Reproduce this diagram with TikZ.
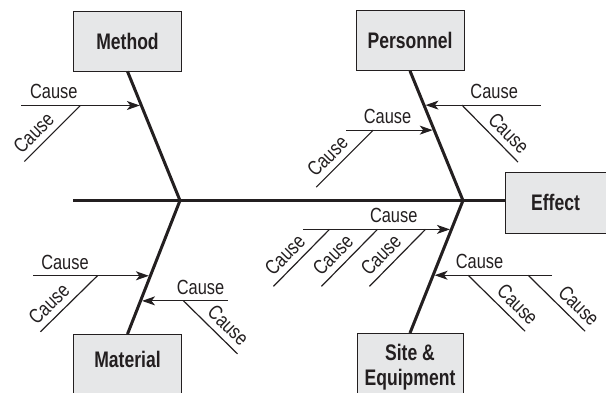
\documentclass[tikz,border=0pt]{standalone}
\usepackage{fontspec}
\setmainfont{Liberation Sans}
\newfontfamily\causefont{Liberation Sans}[FakeStretch=0.8]
\newfontfamily\catfont{Liberation Sans}[FakeStretch=0.78]
\usetikzlibrary{
  arrows.meta,
  positioning,
  calc
}
\definecolor{ink}{RGB}{35,31,32}
\definecolor{boxgray}{RGB}{230,231,232}

\begin{document}
\begin{tikzpicture}[x=1pt, y=-1pt,
    catbox/.style={rectangle, draw=ink, fill=boxgray, line width=0.8pt, minimum width=108pt, minimum height=60pt, inner sep=0pt, text=ink, font=\catfont\bfseries\fontsize{22.5}{25}\selectfont, align=center},
    cattext/.style={inner sep=0pt, text=ink, font=\catfont\bfseries\fontsize{22.5}{25}\selectfont, align=center},
    bone/.style={draw=ink, line width=3pt},
    cause/.style={draw=ink, line width=1.2pt},
    causearr/.style={cause, -{Stealth[length=13pt, width=9pt, inset=3.5pt]}, shorten >=1.5pt},
    causetext/.style={inner sep=0pt, text=ink, font=\causefont\fontsize{20.5}{22}\selectfont}]
  \useasboundingbox (0,0) rectangle (606,392);
  \clip (0,0) rectangle (606,392);

  % categories and effect
  \node [catbox] (method) at (127.5,41) {Method};
  \node [catbox] (personnel) at (410,40.5) {Personnel};
  \node [catbox, minimum width=101pt, minimum height=61pt] (effect) at (555.5,202.5) {Effect};
  \node [catbox, anchor=north, minimum height=80pt] (material) at (127.5,334) {};
  \node [cattext, below=17pt of material.north] (materialtext) {Material};
  \node [catbox, anchor=north, minimum height=80pt, minimum width=106pt] (site) at (410,333) {};
  \node [cattext, below=11pt of site.north] (sitetext) {Site \&\\Equipment};

  % spine and bones
  \coordinate (tail) at (73,200.5);
  \coordinate (jl) at (180,200.5);
  \coordinate (jr) at (463,200.5);
  \draw [bone] (tail) -- (tail -| effect.west);
  \draw [bone] (method.south) -- (jl) -- (material.north);
  \draw [bone] (personnel.south) -- (jr) -- (site.north);

  % Method
  \coordinate (m1) at ($(method.south)!0.264!(jl)$);
  \coordinate (m1a) at ($(m1)+(-120,0)$);
  \coordinate (m1b) at ($(m1)+(-61,0)$);
  \coordinate (m1c) at ($(m1b)+(-56,56)$);
  \draw [causearr] (m1a) -- node [causetext, pos=0.27, above=6pt] {Cause} (m1);
  \draw [cause] (m1c) -- node [causetext, sloped, pos=0.34, above=6pt] {Cause} (m1b);

  % Personnel
  \coordinate (p1) at ($(personnel.south)!0.264!(jr)$);
  \coordinate (p1a) at ($(p1)+(117,0)$);
  \coordinate (p1b) at ($(p1)+(38,0)$);
  \coordinate (p1c) at ($(p1b)+(56,57)$);
  \draw [causearr] (p1a) -- node [causetext, pos=0.40, above=6pt] {Cause} (p1);
  \draw [cause] (p1b) -- node [causetext, sloped, pos=0.66, above=6pt] {Cause} (p1c);
  \coordinate (p2) at ($(personnel.south)!0.457!(jr)$);
  \coordinate (p2a) at ($(p2)+(-88,0)$);
  \coordinate (p2b) at ($(p2)+(-61,0)$);
  \coordinate (p2c) at ($(p2b)+(-57,57)$);
  \draw [causearr] (p2a) -- node [causetext, pos=0.47, above=6pt] {Cause} (p2);
  \draw [cause] (p2c) -- node [causetext, sloped, pos=0.37, above=6pt] {Cause} (p2b);

  % Material
  \coordinate (q1) at ($(jl)!0.564!(material.north)$);
  \coordinate (q1a) at ($(q1)+(-117,0)$);
  \coordinate (q1b) at ($(q1)+(-53,0)$);
  \coordinate (q1c) at ($(q1b)+(-57,56)$);
  \draw [causearr] (q1a) -- node [causetext, pos=0.27, above=6pt] {Cause} (q1);
  \draw [cause] (q1c) -- node [causetext, sloped, pos=0.32, above=6pt] {Cause} (q1b);
  \coordinate (q2) at ($(jl)!0.752!(material.north)$);
  \coordinate (q2a) at ($(q2)+(87,0)$);
  \coordinate (q2b) at ($(q2)+(43,0)$);
  \coordinate (q2c) at ($(q2b)+(54,53)$);
  \draw [causearr] (q2a) -- node [causetext, pos=0.31, above=6pt] {Cause} (q2);
  \draw [cause] (q2b) -- node [causetext, sloped, pos=0.65, above=6pt] {Cause} (q2c);

  % Site & Equipment
  \coordinate (s1) at ($(jr)!0.218!(site.north)$);
  \coordinate (s1a) at ($(s1)+(-148,0)$);
  \draw [causearr] (s1a) -- node [causetext, pos=0.61, above=6pt] {Cause} (s1);
  \foreach \dx [count=\i] in {-122,-74,-26} {
    \coordinate (s1b\i) at ($(s1)+(\dx,0)$);
    \coordinate (s1c\i) at ($(s1b\i)+(-56,57)$);
    \draw [cause] (s1c\i) -- node [causetext, sloped, pos=0.38, above=6pt] {Cause} (s1b\i);
  }
  \coordinate (s2) at ($(jr)!0.564!(site.north)$);
  \coordinate (s2a) at ($(s2)+(119,0)$);
  \draw [causearr] (s2a) -- node [causetext, pos=0.61, above=6pt] {Cause} (s2);
  \foreach \dx/\p [count=\i] in {35/0.70,95/0.72} {
    \coordinate (s2b\i) at ($(s2)+(\dx,0)$);
    \coordinate (s2c\i) at ($(s2b\i)+(57,56)$);
    \draw [cause] (s2b\i) -- node [causetext, sloped, pos=\p, above=6pt] {Cause} (s2c\i);
  }
\end{tikzpicture}
\end{document}
